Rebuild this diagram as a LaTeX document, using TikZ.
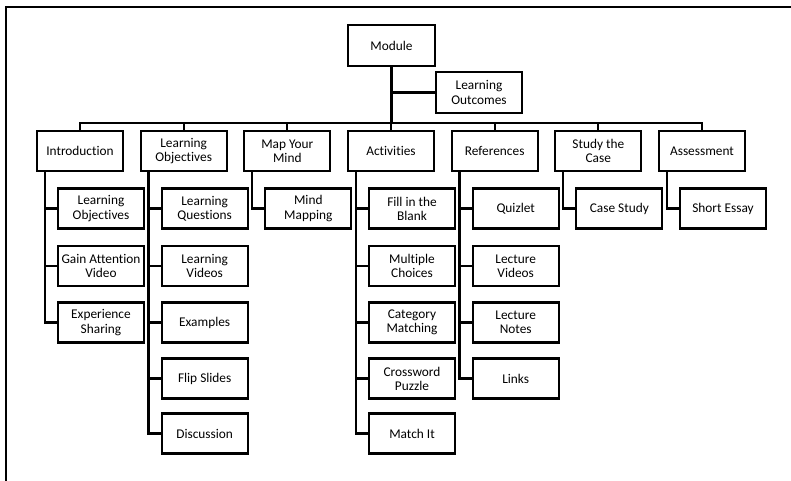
\documentclass[tikz,border=0pt]{standalone}
\usepackage{fontspec}
\setmainfont{Carlito}[Ligatures={NoCommon}]
\begin{document}
\begin{tikzpicture}[x=0.75pt,y=-0.75pt,
  box/.style={draw,line width=1.7pt,minimum width=64.5pt,minimum height=30pt,inner sep=1pt,align=center,font=\fontsize{10}{10.6}\selectfont},
  conn/.style={line width=1.7pt}]
\useasboundingbox (0,0) rectangle (791,480);
\draw[line width=1.9pt] (6,481) -- (6,7) -- (792,7);
% root
\node[box,minimum width=65.25pt,minimum height=30.75pt] (mod) at (391.5,45.5) {Module};
\node[box,minimum height=30.75pt] (lout) at (479,92.5) {Learning\\Outcomes};
\coordinate (bus) at (0,123);
% top level
\node[box] (t1) at (80,151) {Introduction};
\node[box] (t2) at (183.7,151) {Learning\\Objectives};
\node[box] (t3) at (287.3,151) {Map Your\\Mind};
\node[box] (t4) at (391,151) {Activities};
\node[box] (t5) at (494.7,151) {References};
\node[box] (t6) at (598.3,151) {Study the\\Case};
\node[box] (t7) at (702,151) {Assessment};
\draw[conn] (mod.south) -- (mod.south |- bus);
\draw[conn] (lout.west) -- (lout.west -| mod.south);
\draw[conn] (t1.north) -- (t1.north |- bus) -- (t7.north |- bus) -- (t7.north);
\foreach \n in {t2,t3,t4,t5,t6} \draw[conn] (\n.north) -- (\n.north |- bus);
% children: Introduction
\node[box] (a1) at (101,208.5) {Learning\\Objectives};
\node[box] (a2) at (101,266) {Gain Attention\\Video};
\node[box] (a3) at (101,322.5) {Experience\\Sharing};
% Learning Objectives
\node[box] (b1) at (204.7,208.5) {Learning\\Questions};
\node[box] (b2) at (204.7,266) {Learning\\Videos};
\node[box] (b3) at (204.7,322.5) {Examples};
\node[box] (b4) at (204.7,378.5) {Flip Slides};
\node[box] (b5) at (204.7,433.5) {Discussion};
% Map Your Mind
\node[box] (c1) at (308.3,208.5) {Mind\\Mapping};
% Activities
\node[box] (d1) at (412,208.5) {Fill in the\\Blank};
\node[box] (d2) at (412,266) {Multiple\\Choices};
\node[box] (d3) at (412,322.5) {Category\\Matching};
\node[box] (d4) at (412,378.5) {Crossword\\Puzzle};
\node[box] (d5) at (412,433.5) {Match It};
% References
\node[box] (e1) at (515.7,208.5) {Quizlet};
\node[box] (e2) at (515.7,266) {Lecture\\Videos};
\node[box] (e3) at (515.7,322.5) {Lecture\\Notes};
\node[box] (e4) at (515.7,378.5) {Links};
% Study the Case
\node[box] (f1) at (619.3,208.5) {Case Study};
% Assessment
\node[box] (g1) at (723,208.5) {Short Essay};
% spines
\foreach \p/\last/\others in {t1/a3/{a1,a2}, t2/b5/{b1,b2,b3,b4}, t4/d5/{d1,d2,d3,d4}, t5/e4/{e1,e2,e3}}{
  \coordinate (sp) at ([xshift=6.75pt]\p.south west);
  \draw[conn] (sp) |- (\last.west);
  \foreach \c in \others \draw[conn] (\c.west) -- (\c.west -| sp);
}
\draw[conn] ([xshift=6.75pt]t3.south west) |- (c1.west);
\draw[conn] ([xshift=6.75pt]t6.south west) |- (f1.west);
\draw[conn] ([xshift=6.75pt]t7.south west) |- (g1.west);
\end{tikzpicture}
\end{document}
